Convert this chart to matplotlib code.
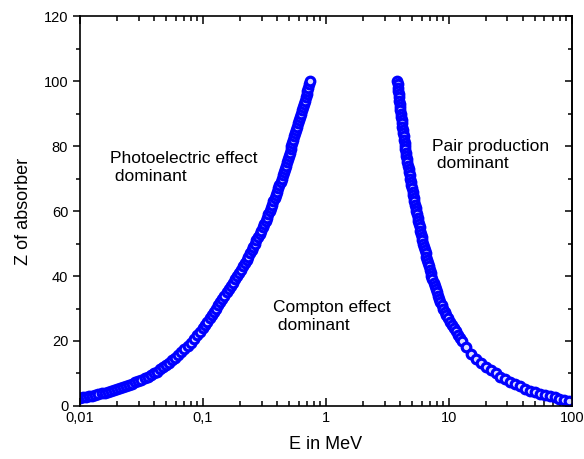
#!/usr/bin/env python3

"""
Regions of dominance of photon interactions: Z of absorber vs photon energy.

* out.png
"""

import sys
import matplotlib
matplotlib.use("Agg")
import matplotlib.pyplot as plt
from matplotlib.ticker import NullFormatter

# photoelectric / compton boundary (E in MeV, Z)
photo_energy = [
    0.0100, 0.01059, 0.01122, 0.01189, 0.01259, 0.01334, 0.01413, 0.01496, 0.01585, 0.01679,
    0.01778, 0.01884, 0.01995, 0.02113, 0.02239, 0.02371, 0.02512, 0.02661, 0.02818, 0.02985,
    0.03162, 0.03350, 0.03548, 0.03758, 0.03981, 0.04217, 0.04467, 0.04732, 0.05012, 0.05309,
    0.05623, 0.05957, 0.06310, 0.06683, 0.07079, 0.07499, 0.07943, 0.08414, 0.08913, 0.09441,
    0.1000, 0.1043, 0.1087, 0.1134, 0.1182, 0.1233, 0.1283, 0.1334, 0.1386, 0.1440,
    0.1496, 0.1555, 0.1616, 0.1679, 0.1745, 0.1813, 0.1884, 0.1957, 0.2033, 0.2112,
    0.2193, 0.2276, 0.2345, 0.2416, 0.2489, 0.2565, 0.2644, 0.2726, 0.2810, 0.2897,
    0.2987, 0.3079, 0.3159, 0.3236, 0.3316, 0.3398, 0.3481, 0.3567, 0.3656, 0.3745,
    0.3838, 0.3933, 0.4021, 0.4105, 0.4190, 0.4276, 0.4365, 0.4456, 0.4548, 0.4642,
    0.4738, 0.4826, 0.4906, 0.4990, 0.5073, 0.5159, 0.5245, 0.5333, 0.5424, 0.5514,
    0.5608, 0.5715, 0.5822, 0.5933, 0.6047, 0.6162, 0.6278, 0.6397, 0.6519, 0.6629,
    0.6739, 0.6851, 0.6965, 0.7079, 0.7196, 0.7317, 0.7437,
]
photo_z = [
    2.5, 2.67, 2.85, 3.02, 3.2, 3.42, 3.65, 3.87, 4.1, 4.37,
    4.65, 4.92, 5.2, 5.52, 5.85, 6.17, 6.5, 6.9, 7.3, 7.7,
    8.1, 8.57, 9.05, 9.52, 10.0, 10.6, 11.25, 11.9, 12.5, 13.3,
    14.05, 14.8, 15.6, 16.6, 17.55, 18.5, 19.5, 20.6, 21.75, 22.9,
    24, 25, 26, 27, 28, 29, 30, 31, 32, 33,
    34, 35, 36, 37, 38, 39, 40, 41, 42, 43,
    44, 45, 46, 47, 48, 49, 50, 51, 52, 53,
    54, 55, 56, 57, 58, 59, 60, 61, 62, 63,
    64, 65, 66, 67, 68, 69, 70, 71, 72, 73,
    74, 75, 76, 77, 78, 79, 80, 81, 82, 83,
    84, 85, 86, 87, 88, 89, 90, 91, 92, 93,
    94, 95, 96, 97, 98, 99, 100,
]

# compton / pair production boundary (E in MeV, Z)
pair_energy = [
    3.802, 3.828, 3.855, 3.882, 3.908, 3.936, 3.963, 3.990, 4.018, 4.046,
    4.074, 4.105, 4.137, 4.168, 4.200, 4.232, 4.264, 4.297, 4.330, 4.363,
    4.395, 4.438, 4.481, 4.525, 4.569, 4.613, 4.658, 4.703, 4.749, 4.795,
    4.842, 4.898, 4.955, 5.012, 5.070, 5.129, 5.188, 5.248, 5.309, 5.370,
    5.433, 5.502, 5.572, 5.643, 5.715, 5.788, 5.861, 5.936, 6.012, 6.089,
    6.166, 6.263, 6.362, 6.463, 6.565, 6.668, 6.774, 6.881, 6.990, 7.100,
    7.211, 7.366, 7.523, 7.685, 7.849, 8.017, 8.189, 8.364, 8.544, 8.727,
    8.913, 9.237, 9.572, 9.920, 10.28, 10.65, 11.04, 11.44, 11.86, 12.29,
    12.74, 13.80, 15.14, 16.60, 18.20, 19.95, 21.88, 23.99, 26.30, 28.84,
    31.62, 34.67, 38.02, 41.69, 45.71, 50.12, 54.95, 60.26, 66.07, 72.44,
    79.43, 87.10, 95.50,
]
pair_z = [
    100, 99, 98, 97, 96, 95, 94, 93, 92, 91,
    90, 89, 88, 87, 86, 85, 84, 83, 82, 81,
    80, 79, 78, 77, 76, 75, 74, 73, 72, 71,
    70, 69, 68, 67, 66, 65, 64, 63, 62, 61,
    60, 59, 58, 57, 56, 55, 54, 53, 52, 51,
    50, 49, 48, 47, 46, 45, 44, 43, 42, 41,
    40, 39, 38, 37, 36, 35, 34, 33, 32, 31,
    30, 29, 28, 27, 26, 25, 24, 23, 22, 21,
    20, 18.2, 16.05, 14.4, 13.2, 12.0, 11.0, 10.0, 9.0, 8.2,
    7.4, 6.67, 6.0, 5.33, 4.75, 4.25, 3.8, 3.4, 3.0, 2.64,
    2.27, 1.9, 1.5,
]

x_ticks = [0.01, 0.1, 1, 10, 100]
x_tick_labels = ["0,01", "0,1", "1", "10", "100"]
y_ticks = [0, 20, 40, 60, 80, 100, 120]

# (E, Z, text) for the region labels
region_labels = [
    (0.01754, 73.4, "Photoelectric effect\n dominant"),
    (0.371, 27.5, "Compton effect\n dominant"),
    (7.28, 77.2, "Pair production\n dominant"),
]


def plot_regions(output_name):
    plt.rcParams['font.family'] = ['Liberation Sans', 'DejaVu Sans']

    fig = plt.figure(figsize=(5.84, 4.59), dpi=100)
    ax = fig.add_axes([0.137, 0.1155, 0.842, 0.8495])

    marker_style = dict(linestyle='none', marker='o', markersize=6.2,
                        markerfacecolor='#dcdcff', markeredgecolor='#0000ff',
                        markeredgewidth=2.3)
    ax.plot(photo_energy, photo_z, **marker_style)
    ax.plot(pair_energy, pair_z, **marker_style)

    ax.set_xscale('log')
    ax.set_xlim(0.01, 100)
    ax.set_ylim(0, 120)
    ax.set_xticks(x_ticks)
    ax.set_xticklabels(x_tick_labels)
    ax.xaxis.set_minor_formatter(NullFormatter())
    ax.set_yticks(y_ticks)
    ax.set_yticks(range(10, 120, 20), minor=True)

    ax.tick_params(axis='x', which='both', direction='in', top=True, labelsize=10.5)
    ax.tick_params(axis='x', which='major', length=6, width=1.1)
    ax.tick_params(axis='x', which='minor', length=3.5, width=1.1)
    ax.tick_params(axis='y', which='both', direction='out', labelsize=10.5)
    ax.tick_params(axis='y', which='major', length=5, width=1.1)
    ax.tick_params(axis='y', which='minor', length=3, width=1.1)
    for spine in ax.spines.values():
        spine.set_linewidth(1.2)

    # right side ticks point inward, left side outward
    right = ax.secondary_yaxis('right')
    right.set_yticks(y_ticks)
    right.set_yticks(range(10, 120, 20), minor=True)
    right.tick_params(which='both', direction='in', labelright=False)
    right.tick_params(which='major', length=5, width=1.1)
    right.tick_params(which='minor', length=3, width=1.1)
    right.spines['right'].set_linewidth(1.2)

    ax.set_xlabel('E in MeV', fontsize=13, labelpad=8)
    ax.set_ylabel('Z of absorber', fontsize=13, labelpad=8)

    for energy, z, text in region_labels:
        ax.text(energy, z, text, fontsize=12.5, ha='left', va='center', linespacing=1.2)

    fig.savefig(output_name, dpi=100)
    plt.close(fig)


def main(argv=None):
    plot_regions('out.png')
    return 0


if __name__ == "__main__":
    sys.exit(main())
